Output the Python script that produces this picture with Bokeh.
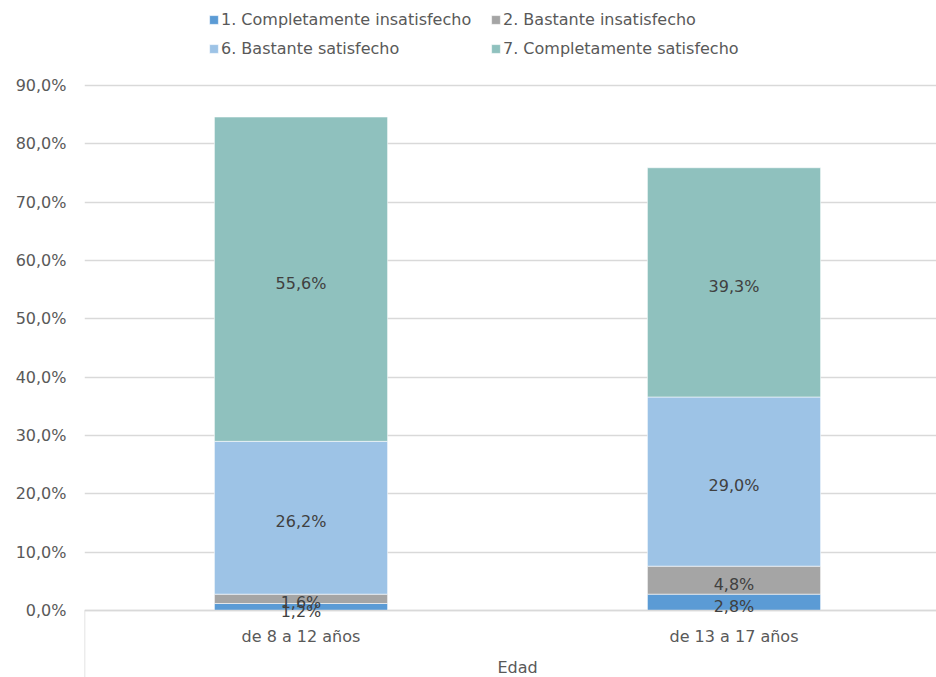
import numpy as np
from bokeh.plotting import figure
from bokeh.models import (ColumnDataSource, Range1d, FixedTicker, Legend, LegendItem)
from bokeh.core.properties import value
from bokeh.embed import file_html
from bokeh.resources import INLINE

categories = ["de 8 a 12 años", "de 13 a 17 años"]
series_names = ["1. Completamente insatisfecho", "2. Bastante insatisfecho",
                "6. Bastante satisfecho", "7. Completamente satisfecho"]
s1 = [1.2, 2.8]
s2 = [1.6, 4.8]
s6 = [26.2, 29.0]
s7 = [55.6, 39.3]
colors = ["#5B9BD5", "#A5A5A5", "#9DC3E6", "#8FC1BE"]
y_ticks = [0, 10, 20, 30, 40, 50, 60, 70, 80, 90]
y_tick_labels = ["0,0%", "10,0%", "20,0%", "30,0%", "40,0%", "50,0%",
                 "60,0%", "70,0%", "80,0%", "90,0%"]
axis_title = "Edad"

FONT = "DejaVu Sans"
FS = "16px"
GRID = "#D9D9D9"
TXT = "#595959"
x = [i + 0.5 for i in range(len(categories))]
keys = ["s1", "s2", "s6", "s7"]
src = ColumnDataSource(dict(x=x, s1=s1, s2=s2, s6=s6, s7=s7))

W, H = 936, 677
left = 84
unit_px = 433.0
top_px = 85.0                        # pixel row of the 90 % gridline
zero_px = 610.0                      # pixel row of the 0 baseline
px_per_unit = (zero_px - top_px) / 90.0
y_min = -(H - zero_px) / px_per_unit   # room below the baseline for category labels
y_top = 90.0 + top_px / px_per_unit    # room above for the legend

p = figure(width=W, height=H, output_backend="svg", toolbar_location=None,
           x_range=Range1d(0, (W - left) / unit_px), y_range=Range1d(y_min, y_top),
           min_border_left=left, min_border_right=0, min_border_top=0,
           min_border_bottom=0, outline_line_color=None)
p.xaxis.visible = False

renderers = p.vbar_stack(keys, x="x", width=0.4, source=src, color=colors,
                         line_color="white", line_width=0.8, line_alpha=0.7)

# baseline (category axis line) and outer group separator
p.segment(x0=[0], y0=[0], x1=[len(categories)], y1=[0], line_color=GRID, line_width=1.5)
p.segment(x0=[0], y0=[y_min], x1=[0], y1=[0], line_color=GRID, line_width=1.5)

# category labels and axis title
p.text(x=x, y=[0] * len(x), text=categories, text_align="center", text_baseline="middle",
       text_font=value(FONT), text_font_size=FS, text_color=TXT, y_offset=26)
p.text(x=[len(categories) / 2.0], y=[0], text=[axis_title], text_align="center",
       text_baseline="middle", text_font=value(FONT), text_font_size=FS,
       text_color=TXT, y_offset=57)

# data labels
vals = np.array([s1, s2, s6, s7])
cum = np.cumsum(vals, axis=0)
centers = cum - vals / 2.0
lx, ly, lt = [], [], []
for i in range(vals.shape[0]):
    for j in range(vals.shape[1]):
        lx.append(x[j]); ly.append(centers[i, j])
        lt.append(("%.1f%%" % vals[i, j]).replace(".", ","))
p.text(x=lx, y=ly, text=lt, text_align="center", text_baseline="middle",
       text_font=value(FONT), text_font_size=FS, text_color="#404040",
       y_offset=4)

# y axis
p.yaxis.ticker = FixedTicker(ticks=y_ticks)
p.yaxis.major_label_overrides = {t: l for t, l in zip(y_ticks, y_tick_labels)}
p.yaxis.axis_line_color = None
p.yaxis.major_tick_line_color = None
p.yaxis.minor_tick_line_color = None
p.yaxis.major_tick_in = 0
p.yaxis.major_tick_out = 0
p.yaxis.major_label_standoff = 18
p.yaxis.major_label_text_font = FONT
p.yaxis.major_label_text_font_size = FS
p.yaxis.major_label_text_color = TXT

p.xgrid.grid_line_color = None
p.ygrid.grid_line_color = GRID
p.ygrid.grid_line_width = 1.5

common = dict(orientation="vertical", label_text_font=FONT, label_text_font_size=FS,
              label_text_color=TXT, glyph_width=11, glyph_height=11,
              label_standoff=2, spacing=9, padding=0, margin=0,
              border_line_color=None, background_fill_alpha=0,
              label_height=20, label_text_baseline="middle")
col_a = [0, 2]
col_b = [1, 3]
leg_bottom = H - 58.5
leg1 = Legend(items=[LegendItem(label=series_names[i], renderers=[renderers[i]]) for i in col_a],
              location=(208 - left, leg_bottom), **common)
leg2 = Legend(items=[LegendItem(label=series_names[i], renderers=[renderers[i]]) for i in col_b],
              location=(490 - left, leg_bottom), **common)
p.add_layout(leg1)
p.add_layout(leg2)

open("out.html", "w").write(file_html(p, INLINE))
